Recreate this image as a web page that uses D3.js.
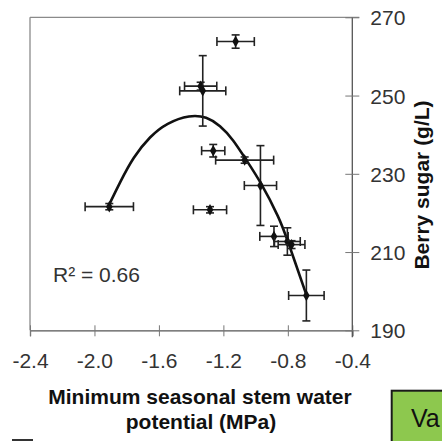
<!DOCTYPE html>
<html>
<head>
<meta charset="utf-8">
<script src="https://cdn.jsdelivr.net/npm/d3@7"></script>
<style>
  body { margin: 0; background: #fff; }
  svg { display: block; font-family: "Liberation Sans", Arial, sans-serif; }
</style>
</head>
<body>
<div id="chart"></div>
<script>
// Data
var waterPotential = [-1.124, -1.341, -1.328, -1.263, -1.068, -0.970, -1.908, -1.283, -0.886, -0.803, -0.777, -0.685];
var berrySugar     = [263.8, 252.4, 251.2, 235.9, 233.5, 227.0, 221.6, 220.8, 214.0, 212.7, 211.9, 198.9];
var potentialErr   = [0.116, 0.100, 0.143, 0.072, 0.180, 0.100, 0.150, 0.103, 0.088, 0.080, 0.083, 0.110];
var sugarErr       = [1.7, 1.0, 9.0, 1.6, 0.8, 10.2, 0.8, 0.8, 2.6, 3.5, 1.0, 6.5];

// fitted trend line, read at points along the curve
var fitX = [-1.904, -1.842, -1.759, -1.655, -1.552, -1.407, -1.304, -1.221, -1.138, -1.066, -0.973, -0.849, -0.807, -0.687];
var fitY = [222.5, 227.8, 234.3, 239.6, 243.0, 245.1, 244.6, 242.4, 238.7, 234.0, 228.3, 218.4, 213.6, 199.3];

var xTicks = [-2.4, -2.0, -1.6, -1.2, -0.8, -0.4];
var yTicks = [190, 210, 230, 250, 270];
var r2Label = "R\u00b2 = 0.66";

var width = 442, height = 441;
var plotLeft = 30, plotRight = 352.3, plotTop = 17.3, plotBottom = 330.3;

var svg = d3.select("#chart")
    .append("svg")
    .attr("width", width)
    .attr("height", height);

var x = d3.scaleLinear().domain([-2.4, -0.4]).range([plotLeft, plotRight]);
var y = d3.scaleLinear().domain([190, 270]).range([plotBottom, plotTop]);

// frame (top and left, light grey)
svg.append("line")
    .attr("x1", plotLeft).attr("y1", plotTop).attr("x2", plotRight + 7).attr("y2", plotTop)
    .attr("stroke", "#8a8a8a").attr("stroke-width", 1.3);
svg.append("line")
    .attr("x1", plotLeft).attr("y1", plotTop).attr("x2", plotLeft).attr("y2", plotBottom)
    .attr("stroke", "#8a8a8a").attr("stroke-width", 1.3);

// x axis
var xAxis = svg.append("g")
    .attr("transform", "translate(0," + plotBottom + ")")
    .call(d3.axisBottom(x).tickValues(xTicks).tickSize(6));
xAxis.select(".domain").attr("stroke", "#555").attr("stroke-width", 1.3);
xAxis.selectAll(".tick line").attr("y1", -5).attr("y2", 6).attr("stroke", "#777");
xAxis.selectAll(".tick text")
    .attr("y", 38).attr("dy", null)
    .attr("font-size", 21).attr("fill", "#333")
    .text(function(d) { return d.toFixed(1); });

// y axis on the right
var yAxis = svg.append("g")
    .attr("transform", "translate(" + plotRight + ",0)")
    .call(d3.axisRight(y).tickValues(yTicks).tickSize(6));
yAxis.select(".domain").attr("d", "M0," + plotTop + "V" + (plotBottom + 7))
    .attr("stroke", "#555").attr("stroke-width", 1.3);
yAxis.selectAll(".tick line").attr("x1", -7).attr("x2", 7).attr("stroke", "#777");
yAxis.selectAll(".tick text")
    .attr("x", 18).attr("dy", "0.36em")
    .attr("font-size", 21).attr("fill", "#333")
    .attr("text-anchor", "start");

// trend line
var fitData = fitX.map(function(d, i) { return {x: d, y: fitY[i]}; });
var lineFunction = d3.line()
    .x(function(d) { return x(d.x); })
    .y(function(d) { return y(d.y); })
    .curve(d3.curveBasis);
svg.append("path")
    .attr("d", lineFunction(fitData))
    .attr("fill", "none")
    .attr("stroke", "#111")
    .attr("stroke-width", 2.6);

// error bars and points
var points = waterPotential.map(function(d, i) {
    return {x: d, y: berrySugar[i], ex: potentialErr[i], ey: sugarErr[i]};
});
var bars = svg.selectAll("g.pt")
    .data(points)
    .enter()
    .append("g")
    .attr("class", "pt")
    .attr("stroke", "#222")
    .attr("stroke-width", 1.6);

bars.append("line")
    .attr("x1", function(d) { return x(d.x - d.ex); })
    .attr("x2", function(d) { return x(d.x + d.ex); })
    .attr("y1", function(d) { return y(d.y); })
    .attr("y2", function(d) { return y(d.y); });
bars.append("line")
    .attr("x1", function(d) { return x(d.x); })
    .attr("x2", function(d) { return x(d.x); })
    .attr("y1", function(d) { return y(d.y - d.ey); })
    .attr("y2", function(d) { return y(d.y + d.ey); });
// caps
[-1, 1].forEach(function(s) {
    bars.append("line")
        .attr("x1", function(d) { return x(d.x + s * d.ex); })
        .attr("x2", function(d) { return x(d.x + s * d.ex); })
        .attr("y1", function(d) { return y(d.y) - 4.5; })
        .attr("y2", function(d) { return y(d.y) + 4.5; });
    bars.append("line")
        .attr("x1", function(d) { return x(d.x) - 4; })
        .attr("x2", function(d) { return x(d.x) + 4; })
        .attr("y1", function(d) { return y(d.y + s * d.ey); })
        .attr("y2", function(d) { return y(d.y + s * d.ey); });
});
bars.append("path")
    .attr("d", d3.symbol().type(d3.symbolDiamond).size(38))
    .attr("transform", function(d) { return "translate(" + x(d.x) + "," + y(d.y) + ")"; })
    .attr("fill", "#111")
    .attr("stroke", "none");

// R squared
svg.append("text")
    .attr("x", 53).attr("y", 282)
    .attr("font-size", 21).attr("fill", "#333")
    .text(r2Label);

// axis titles
svg.append("text")
    .attr("x", 200).attr("y", 404)
    .attr("text-anchor", "middle")
    .attr("font-size", 21).attr("font-weight", "bold").attr("fill", "#111")
    .text("Minimum seasonal stem water");
svg.append("text")
    .attr("x", 201).attr("y", 429)
    .attr("text-anchor", "middle")
    .attr("font-size", 21).attr("font-weight", "bold").attr("fill", "#111")
    .text("potential (MPa)");
svg.append("text")
    .attr("transform", "translate(429,185) rotate(-90)")
    .attr("text-anchor", "middle")
    .attr("font-size", 21).attr("font-weight", "bold").attr("fill", "#111")
    .text("Berry sugar (g/L)");

// cut-off green box at the corner
svg.append("rect")
    .attr("x", 391.7).attr("y", 390.7)
    .attr("width", 60).attr("height", 60)
    .attr("fill", "#8dc84e")
    .attr("stroke", "#1a1a1a")
    .attr("stroke-width", 2);
svg.append("text")
    .attr("x", 411).attr("y", 427)
    .attr("font-size", 25).attr("fill", "#111")
    .text("Va");

// small cut-off mark bottom left
svg.append("rect")
    .attr("x", 12).attr("y", 439)
    .attr("width", 21).attr("height", 2)
    .attr("fill", "#333");
</script>
</body>
</html>
